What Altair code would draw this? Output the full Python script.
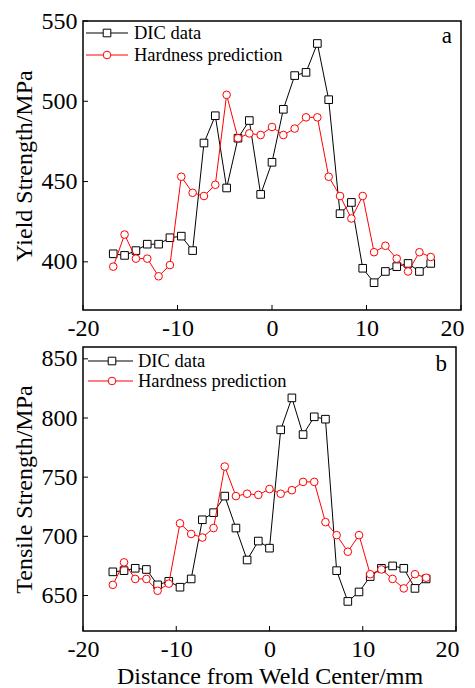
import altair as alt
import pandas as pd

distance = [-16.8, -15.6, -14.4, -13.2, -12.0, -10.8, -9.6, -8.4, -7.2, -6.0,
            -4.8, -3.6, -2.4, -1.2, 0.0, 1.2, 2.4, 3.6, 4.8, 6.0,
            7.2, 8.4, 9.6, 10.8, 12.0, 13.2, 14.4, 15.6, 16.8]

ys_dic = [405, 404, 407, 411, 411, 415, 416, 407, 474, 491,
          446, 477, 488, 442, 462, 495, 516, 518, 536, 501,
          430, 437, 396, 387, 394, 397, 399, 394, 399]
ys_hard = [397, 417, 402, 402, 391, 398, 453, 443, 441, 448,
           504, 477, 480, 479, 484, 479, 483, 490, 490, 453,
           441, 427, 441, 406, 410, 402, 394, 406, 403]

uts_dic = [670, 671, 673, 672, 659, 662, 657, 664, 714, 720,
           734, 707, 680, 696, 690, 790, 817, 786, 801, 799,
           671, 645, 653, 666, 673, 675, 673, 656, 664]
uts_hard = [659, 678, 664, 664, 654, 660, 711, 702, 699, 707,
            759, 734, 736, 735, 740, 736, 739, 746, 746, 712,
            701, 687, 701, 668, 672, 664, 656, 668, 665]

series_names = ["DIC data", "Hardness prediction"]
series_colors = ["black", "red"]
series_shapes = ["square", "circle"]

x_ticks = [-20, -10, 0, 10, 20]
ys_ticks = [400, 450, 500, 550]
uts_ticks = [650, 700, 750, 800, 850]

FONT = "Liberation Serif"
LABEL_EXPR = "'' + datum.value"
X_LABEL_ALIGN = {"condition": {"test": "datum.value == 20", "value": "right"}, "value": "center"}
X_LABEL_OFFSET = {"condition": {"test": "datum.value == 20", "value": 3}, "value": 0}


def panel(dic, hard, ydomain, yticks, ytitle, letter, w, h, xtitle, leg, letter_y):
    df = pd.DataFrame({"distance": distance, series_names[0]: dic, series_names[1]: hard})
    long = df.melt("distance", var_name="series", value_name="value")

    xscale = alt.Scale(domain=[-20, 20], nice=False, zero=False)
    yscale = alt.Scale(domain=ydomain, nice=False, zero=False)
    xaxis = alt.Axis(values=x_ticks, title=xtitle, labelExpr=LABEL_EXPR, labelFlush=False,
                     labelAlign=X_LABEL_ALIGN, labelOffset=X_LABEL_OFFSET, titlePadding=3)
    xenc = alt.X("distance:Q", scale=xscale, axis=xaxis)
    yenc = alt.Y("value:Q", scale=yscale,
                 axis=alt.Axis(values=yticks, title=ytitle, labelExpr=LABEL_EXPR,
                               labelFlush=False))

    layers = []
    for name, col, shp in zip(series_names, series_colors, series_shapes):
        base = alt.Chart(long).transform_filter(alt.datum.series == name)
        layers.append(base.mark_line(color=col, strokeWidth=1).encode(x=xenc, y=yenc))
        layers.append(base.mark_point(shape=shp, filled=True, fill="white", stroke=col,
                                      strokeWidth=1, size=58, opacity=1).encode(x=xenc, y=yenc))

    # inward ticks
    xt = pd.DataFrame({"xt": x_ticks})
    layers.append(alt.Chart(xt).mark_rule(color="black", strokeWidth=1).encode(
        x=alt.X("xt:Q", scale=xscale), y=alt.value(h), y2=alt.value(h - 5)))
    yt = pd.DataFrame({"yt": yticks})
    layers.append(alt.Chart(yt).mark_rule(color="black", strokeWidth=1).encode(
        y=alt.Y("yt:Q", scale=yscale), x=alt.value(0), x2=alt.value(5)))

    # manual legend
    lx0, lx1, mx, tx, rows = leg
    for (name, col, shp), ly in zip(zip(series_names, series_colors, series_shapes), rows):
        ld = pd.DataFrame({"label": [name]})
        layers.append(alt.Chart(ld).mark_rule(color=col, strokeWidth=1).encode(
            x=alt.value(lx0), x2=alt.value(lx1), y=alt.value(ly)))
        layers.append(alt.Chart(ld).mark_point(shape=shp, filled=True, fill="white", stroke=col,
                                               strokeWidth=1, size=58, opacity=1).encode(
            x=alt.value(mx), y=alt.value(ly)))
        layers.append(alt.Chart(ld).mark_text(align="left", baseline="middle", font=FONT,
                                              fontSize=18.5, color="black").encode(
            x=alt.value(tx), y=alt.value(ly), text="label:N"))

    lt = pd.DataFrame({"letter": [letter]})
    layers.append(alt.Chart(lt).mark_text(align="right", baseline="middle", font=FONT,
                                          fontSize=23, color="black").encode(
        x=alt.value(w - 9), y=alt.value(letter_y), text="letter:N"))

    return alt.layer(*layers).properties(width=w, height=h)


pa = panel(ys_dic, ys_hard, [370, 550], ys_ticks, "Yield Strength/MPa", "a", 378, 289, None,
           (3, 45, 24, 51, [12, 34]), 15)
pb = panel(uts_dic, uts_hard, [620, 860], uts_ticks, "Tensile Strength/MPa", "b", 373, 284,
           "Distance from Weld Center/mm", (5, 50, 29, 55, [14, 34]), 17)

chart = alt.vconcat(pa, pb, spacing=5).properties(
    padding={"left": 3, "top": 0, "right": 0, "bottom": 0}
).configure(
    font=FONT
).configure_view(
    stroke="black", strokeWidth=1.5
).configure_axis(
    domain=False, ticks=False, grid=False, labelFlush=False,
    labelFont=FONT, labelFontSize=24, labelColor="black", labelPadding=6,
    titleFont=FONT, titleFontSize=24, titleColor="black", titleFontWeight="normal",
    titlePadding=5
)

chart.save("out.html", embed_options={"renderer": "svg", "actions": False})
